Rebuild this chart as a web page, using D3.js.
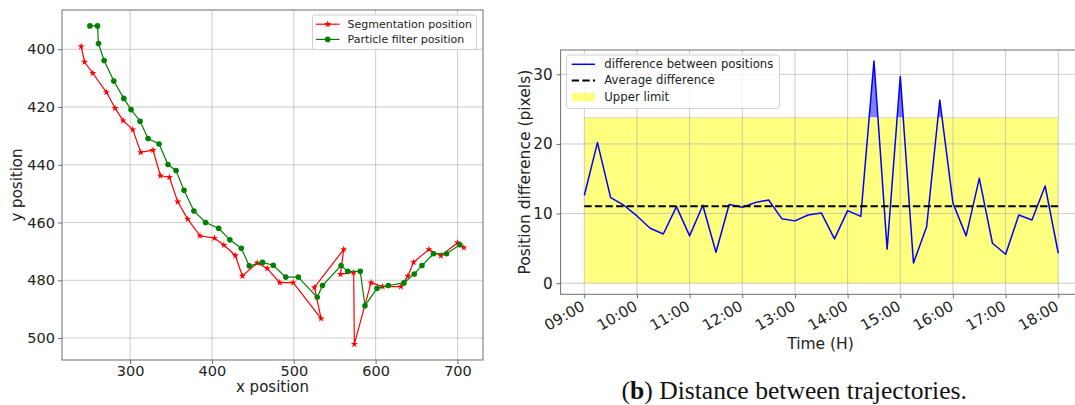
<!DOCTYPE html>
<html>
<head>
<meta charset="utf-8">
<script src="https://cdn.jsdelivr.net/npm/d3@7"></script>
<style>
  body { margin: 0; background: #fff; }
  svg { display: block; }
  text { font-family: "DejaVu Sans", sans-serif; fill: #222; }
  text.caption { font-family: "Liberation Serif", "DejaVu Serif", serif; fill: #111; }
</style>
</head>
<body>
<svg id="fig" width="1075" height="405"></svg>
<script>
// ---- Trajectories (image coordinates, pixels) ----
const segX = [240.2, 244.4, 254.5, 271.2, 281.7, 291.5, 303.3, 313.0, 328.0, 337.1, 348.0, 358.2, 370.4,
  385.4, 403.0, 414.6, 428.5, 437.2, 455.4, 467.6, 482.9, 499.3, 533.4, 525.2, 561.0, 557.0, 573.2,
  574.0, 594.4, 608.5, 631.0, 639.5, 646.3, 665.1, 679.8, 700.0, 707.8];
const segY = [399.0, 404.4, 408.3, 414.9, 420.4, 424.7, 427.8, 435.7, 434.9, 443.8, 444.3, 452.8, 458.8,
  464.6, 465.4, 467.8, 471.4, 478.5, 474.0, 475.9, 480.8, 480.8, 493.3, 482.5, 469.3, 477.9, 477.3,
  502.1, 480.8, 482.2, 482.2, 478.5, 473.8, 469.3, 471.5, 467.0, 468.7];
const pfX = [250.9, 260.2, 261.4, 268.3, 280.1, 292.3, 301.2, 312.2, 322.0, 335.4, 346.3, 356.1, 365.9,
  378.0, 392.3, 408.2, 421.9, 435.9, 445.6, 461.8, 474.9, 490.2, 505.5, 528.7, 535.0, 557.8, 565.9,
  581.2, 587.0, 601.7, 615.5, 634.6, 647.2, 656.6, 670.7, 686.6, 702.9];
const pfY = [391.9, 391.9, 398.0, 403.9, 411.0, 417.0, 420.9, 424.9, 430.9, 432.8, 439.9, 442.0, 448.8,
  456.0, 460.0, 462.0, 466.0, 468.9, 475.0, 473.8, 474.8, 478.9, 478.9, 485.9, 481.8, 474.9, 476.9,
  476.9, 488.8, 482.8, 481.8, 480.9, 477.8, 474.9, 470.8, 470.8, 467.7];
const xTicksLeft = [300, 400, 500, 600, 700];
const yTicksLeft = [400, 420, 440, 460, 480, 500];

// ---- Distance between the two trajectories over the day ----
const sampleTimes = ["09:00", "09:15", "09:30", "09:45", "10:00", "10:15", "10:30", "10:45", "11:00",
  "11:15", "11:30", "11:45", "12:00", "12:15", "12:30", "12:45", "13:00", "13:15", "13:30", "13:45",
  "14:00", "14:15", "14:30", "14:45", "15:00", "15:15", "15:30", "15:45", "16:00", "16:15", "16:30",
  "16:45", "17:00", "17:15", "17:30", "17:45", "18:00"];
const diffValues = [12.6, 20.2, 12.3, 11.2, 9.66, 7.9, 7.07, 11.0, 6.8, 11.2, 4.45, 11.3, 10.9, 11.6,
  11.95, 9.27, 8.95, 9.8, 10.09, 6.36, 10.42, 9.6, 31.9, 4.9, 29.7, 2.9, 8.1, 26.3, 11.5, 6.8, 15.06,
  5.74, 4.16, 9.8, 9.08, 13.96, 4.3];
const averageDiff = [11.05];
const upperLimit = [23.8];
const hourTicks = ["09:00", "10:00", "11:00", "12:00", "13:00", "14:00", "15:00", "16:00", "17:00", "18:00"];
const yTicksRight = [0, 10, 20, 30];

const svg = d3.select("#fig");
const SPINE = "#6e6e6e", GRID = "#b0b0b0";

function padded(lo, hi) { const m = (hi - lo) * 0.05; return [lo - m, hi + m]; }

function styleAxis(g, fontSize) {
  g.select(".domain").remove();
  g.selectAll(".tick line").attr("stroke", SPINE).attr("stroke-width", 1);
  g.selectAll(".tick text").attr("font-size", fontSize).attr("fill", "#222");
}

function frame(g, x0, x1, y0, y1) {
  g.append("rect").attr("x", x0).attr("y", y0).attr("width", x1 - x0).attr("height", y1 - y0)
    .attr("fill", "none").attr("stroke", SPINE).attr("stroke-width", 1);
}

// ================= Left panel: trajectories =================
(function () {
  const L = 62, R = 483, T = 10, B = 360;
  const allX = segX.concat(pfX), allY = segY.concat(pfY);
  const x = d3.scaleLinear().domain(padded(d3.min(allX), d3.max(allX))).range([L, R]);
  const y = d3.scaleLinear().domain(padded(d3.min(allY), d3.max(allY))).range([T, B]);
  const g = svg.append("g");

  // grid
  g.append("g").selectAll("line").data(xTicksLeft).join("line")
    .attr("x1", d => x(d)).attr("x2", d => x(d)).attr("y1", T).attr("y2", B)
    .attr("stroke", GRID).attr("stroke-width", 0.8).attr("opacity", 0.8);
  g.append("g").selectAll("line").data(yTicksLeft).join("line")
    .attr("y1", d => y(d)).attr("y2", d => y(d)).attr("x1", L).attr("x2", R)
    .attr("stroke", GRID).attr("stroke-width", 0.8).attr("opacity", 0.8);

  const line = d3.line().x(d => x(d[0])).y(d => y(d[1]));
  const seg = d3.zip(segX, segY), pf = d3.zip(pfX, pfY);

  g.append("path").datum(seg).attr("d", line).attr("fill", "none")
    .attr("stroke", "#ff0000").attr("stroke-width", 1.2);
  g.append("g").selectAll("path").data(seg).join("path")
    .attr("transform", d => `translate(${x(d[0])},${y(d[1])})`)
    .attr("d", d3.symbol(d3.symbolStar, 16)).attr("fill", "#ff0000");

  g.append("path").datum(pf).attr("d", line).attr("fill", "none")
    .attr("stroke", "#008000").attr("stroke-width", 1.2);
  g.append("g").selectAll("circle").data(pf).join("circle")
    .attr("cx", d => x(d[0])).attr("cy", d => y(d[1])).attr("r", 2.8).attr("fill", "#008000");

  frame(g, L, R, T, B);

  const ax = g.append("g").attr("transform", `translate(0,${B})`)
    .call(d3.axisBottom(x).tickValues(xTicksLeft).tickSize(4).tickPadding(2));
  styleAxis(ax, 14.5);
  const ay = g.append("g").attr("transform", `translate(${L},0)`)
    .call(d3.axisLeft(y).tickValues(yTicksLeft).tickSize(4).tickPadding(3));
  styleAxis(ay, 14.5);

  g.append("text").attr("x", (L + R) / 2).attr("y", 392).attr("text-anchor", "middle")
    .attr("font-size", 15).text("x position");
  g.append("text").attr("transform", `translate(22,${(T + B) / 2}) rotate(-90)`)
    .attr("text-anchor", "middle").attr("font-size", 15).text("y position");

  // legend
  const lg = g.append("g");
  lg.append("rect").attr("x", 312.5).attr("y", 15).attr("width", 164).attr("height", 34.5)
    .attr("rx", 3).attr("fill", "#fff").attr("fill-opacity", 0.8).attr("stroke", "#d0d0d0");
  const items = [
    { label: "Segmentation position", color: "#ff0000", star: true, yy: 24.2 },
    { label: "Particle filter position", color: "#008000", star: false, yy: 39.4 }
  ];
  items.forEach(it => {
    lg.append("line").attr("x1", 316).attr("x2", 339.5).attr("y1", it.yy).attr("y2", it.yy)
      .attr("stroke", it.color).attr("stroke-width", 1.2);
    if (it.star) {
      lg.append("path").attr("transform", `translate(327.7,${it.yy})`)
        .attr("d", d3.symbol(d3.symbolStar, 16)).attr("fill", it.color);
    } else {
      lg.append("circle").attr("cx", 327.7).attr("cy", it.yy).attr("r", 2.8).attr("fill", it.color);
    }
    lg.append("text").attr("x", 347.5).attr("y", it.yy).attr("dy", "0.35em")
      .attr("font-size", 11).text(it.label);
  });
})();

// ================= Right panel: distance over time =================
(function () {
  const L = 560.6, R = 1082, T = 50, B = 294.3;
  const parse = d3.timeParse("%H:%M");
  const times = sampleTimes.map(parse);
  const ticks = hourTicks.map(parse);
  const t0 = times[0], t1 = times[times.length - 1];
  const span = t1 - t0;
  const x = d3.scaleTime().domain([new Date(+t0 - span * 0.05), new Date(+t1 + span * 0.05)]).range([L, R]);
  const y = d3.scaleLinear().domain(padded(0, d3.max(diffValues))).range([B, T]);
  const limit = upperLimit[0], avg = averageDiff[0];
  const g = svg.append("g");

  svg.append("defs").append("clipPath").attr("id", "aboveLimit")
    .append("rect").attr("x", L).attr("y", T).attr("width", R - L).attr("height", y(limit) - T);

  // yellow band between 0 and the upper limit
  g.append("path").datum(times)
    .attr("d", d3.area().x(d => x(d)).y0(y(0)).y1(y(limit)))
    .attr("fill", "#ffff00").attr("fill-opacity", 0.5);

  // grid
  g.append("g").selectAll("line").data(ticks).join("line")
    .attr("x1", d => x(d)).attr("x2", d => x(d)).attr("y1", T).attr("y2", B)
    .attr("stroke", GRID).attr("stroke-width", 0.8).attr("opacity", 0.8);
  g.append("g").selectAll("line").data(yTicksRight).join("line")
    .attr("y1", d => y(d)).attr("y2", d => y(d)).attr("x1", L).attr("x2", R)
    .attr("stroke", GRID).attr("stroke-width", 0.8).attr("opacity", 0.8);

  const pts = d3.zip(times, diffValues);
  // excess above the limit
  g.append("path").datum(pts).attr("clip-path", "url(#aboveLimit)")
    .attr("d", d3.area().x(d => x(d[0])).y0(y(limit)).y1(d => y(d[1])))
    .attr("fill", "#0000ff").attr("fill-opacity", 0.5);

  g.append("path").datum(pts)
    .attr("d", d3.line().x(d => x(d[0])).y(d => y(d[1])))
    .attr("fill", "none").attr("stroke", "#0000ff").attr("stroke-width", 1.5)
    .attr("stroke-linejoin", "round");

  g.append("line").attr("x1", x(t0)).attr("x2", x(t1)).attr("y1", y(avg)).attr("y2", y(avg))
    .attr("stroke", "#000").attr("stroke-width", 2).attr("stroke-dasharray", "7.4,3.2");

  frame(g, L, R, T, B);

  const ax = g.append("g").attr("transform", `translate(0,${B})`)
    .call(d3.axisBottom(x).tickValues(ticks).tickFormat(d3.timeFormat("%H:%M")).tickSize(4));
  styleAxis(ax, 15);
  ax.selectAll(".tick text").attr("text-anchor", "end").attr("dy", null).attr("y", null)
    .attr("transform", "translate(1,15) rotate(-30)");

  const ay = g.append("g").attr("transform", `translate(${L},0)`)
    .call(d3.axisLeft(y).tickValues(yTicksRight).tickSize(4).tickPadding(4));
  styleAxis(ay, 15.2);

  g.append("text").attr("x", 820.5).attr("y", 349).attr("text-anchor", "middle")
    .attr("font-size", 15.5).text("Time (H)");
  g.append("text").attr("transform", `translate(530,${(T + B) / 2}) rotate(-90)`)
    .attr("text-anchor", "middle").attr("font-size", 15.5).text("Position difference (pixels)");

  // legend
  const lg = g.append("g");
  lg.append("rect").attr("x", 566.5).attr("y", 55).attr("width", 213).attr("height", 53.5)
    .attr("rx", 3).attr("fill", "#fff").attr("fill-opacity", 0.8).attr("stroke", "#d0d0d0");
  const rows = [64.3, 80.4, 97];
  lg.append("line").attr("x1", 571.7).attr("x2", 595).attr("y1", rows[0]).attr("y2", rows[0])
    .attr("stroke", "#0000ff").attr("stroke-width", 1.5);
  lg.append("line").attr("x1", 571.7).attr("x2", 595).attr("y1", rows[1]).attr("y2", rows[1])
    .attr("stroke", "#000").attr("stroke-width", 2).attr("stroke-dasharray", "7.4,3.2");
  lg.append("rect").attr("x", 571.7).attr("y", rows[2] - 4.2).attr("width", 23.3).attr("height", 8.4)
    .attr("fill", "#ffff00").attr("fill-opacity", 0.5);
  ["difference between positions", "Average difference", "Upper limit"].forEach((s, i) => {
    lg.append("text").attr("x", 604.3).attr("y", rows[i]).attr("dy", "0.35em")
      .attr("font-size", 11.7).text(s);
  });

  // caption
  const cap = svg.append("text").attr("class", "caption").attr("x", 621.5).attr("y", 399)
    .attr("font-size", 25.6);
  cap.append("tspan").text("(");
  cap.append("tspan").attr("font-weight", "bold").text("b");
  cap.append("tspan").text(") Distance between trajectories.");
})();
</script>
</body>
</html>
